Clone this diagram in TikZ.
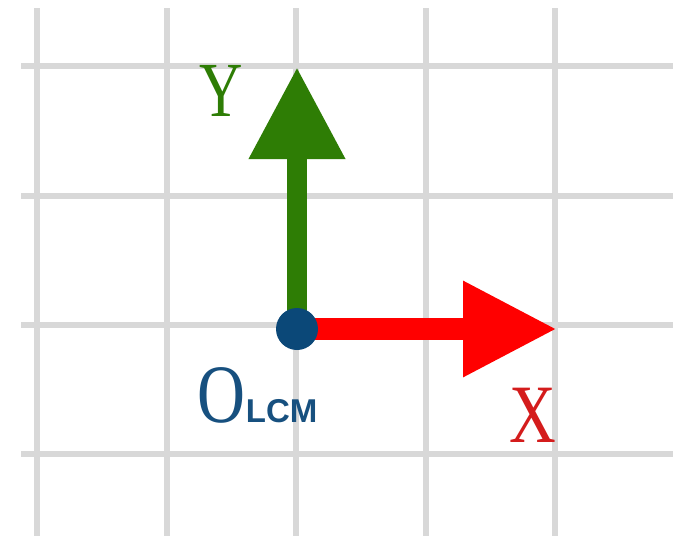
\documentclass[tikz,border=0pt]{standalone}
\usepackage{fontspec}
\setmainfont{Liberation Serif}
\newfontfamily\lcmfont{Liberation Sans}
\usetikzlibrary{arrows.meta}
\definecolor{gridgray}{HTML}{D8D8D8}
\definecolor{axgreen}{HTML}{2E7D05}
\definecolor{axred}{HTML}{FF0000}
\definecolor{labred}{HTML}{D41C1C}
\definecolor{dotblue}{HTML}{0B4878}
\definecolor{txtblue}{HTML}{17507F}
\tikzset{
  gridline/.style={gridgray, line width=6pt},
  axis/.style={line width=#1},
  lbl/.style={inner sep=0pt, outer sep=0pt},
}
\begin{document}
\begin{tikzpicture}[x=1pt,y=-1pt]
\useasboundingbox (0,0) rectangle (673,536);
\fill[white] (0,0) rectangle (673,536);
% grid
\foreach \x in {36.5,166.5,296,425.5,555} \draw[gridline] (\x,8) -- (\x,536);
\foreach \y in {66,195.5,325,454} \draw[gridline] (21,\y) -- (673,\y);
% axes
\coordinate (O) at (297,329);
\coordinate (ytip) at (297,67);
\coordinate (xtip) at (557,329);
\draw[axgreen, line width=20pt, -{Triangle[length=92pt 0 0, width=91pt 0 0]}] (O) -- (ytip);
\draw[axred, line width=22pt, -{Triangle[length=94pt 0 0, width=90pt 0 0]}] (O) -- (xtip);
\fill[dotblue] (O) circle (21);
% labels
\node[lbl, axgreen] (ylab) at (221,91) {\scalebox{0.77}[1]{\fontsize{78}{78}\selectfont Y}};
\node[lbl, labred] (xlab) at (533,415) {\scalebox{0.78}[1]{\fontsize{83}{83}\selectfont X}};
\node[lbl, txtblue, anchor=base west] (olab) at (197,422) {\scalebox{0.8}[1]{\fontsize{83}{83}\selectfont O}\hspace{1pt}{\lcmfont\bfseries\fontsize{33}{33}\selectfont LCM}};
\end{tikzpicture}
\end{document}
